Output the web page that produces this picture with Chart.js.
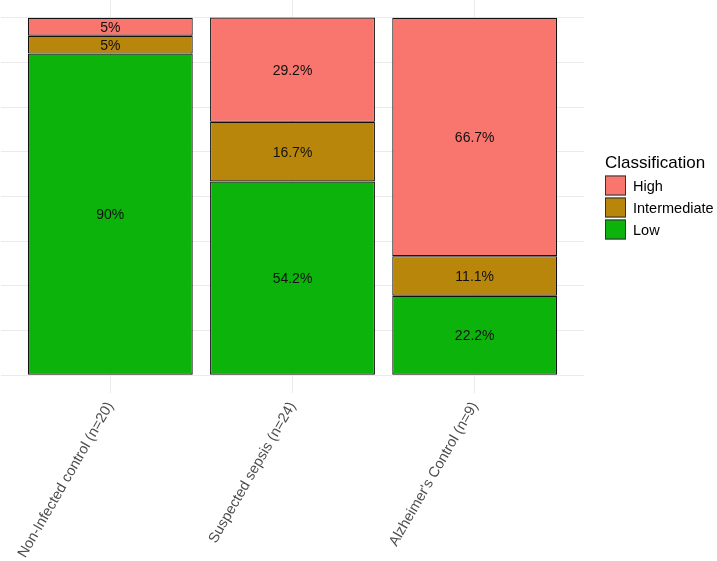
<!DOCTYPE html>
<html>
<head>
<meta charset="utf-8">
<script src="https://cdn.jsdelivr.net/npm/chart.js@4/dist/chart.umd.min.js"></script>
<style>
  html, body { margin: 0; padding: 0; background: #ffffff; }
  #wrap { width: 717px; height: 561px; position: relative; }
</style>
</head>
<body>
<div id="wrap"><canvas id="c" width="717" height="561"></canvas></div>
<script>
// ---- data ----
const categories = ["Non-Infected control (n=20)", "Suspected sepsis (n=24)", "Alzheimer's Control (n=9)"];
const classNames = ["High", "Intermediate", "Low"];
const highValues = [5, 29.2, 66.7];
const intermediateValues = [5, 16.7, 11.1];
const lowValues = [90, 54.2, 22.2];
const yGridTicks = [0, 12.5, 25, 37.5, 50, 62.5, 75, 87.5, 100];
const legendTitle = "Classification";

// ---- styles ----
const FONT = "'Liberation Sans', Arial, Helvetica, sans-serif";
const colors = { High: "#F8766D", Intermediate: "#B8860B", Low: "#0BB30B" };

function mkData(vals) { return vals.map((v, i) => ({ x: i, y: v })); }

const datasets = [
  { label: "Low", data: mkData(lowValues), backgroundColor: colors.Low },
  { label: "Intermediate", data: mkData(intermediateValues), backgroundColor: colors.Intermediate },
  { label: "High", data: mkData(highValues), backgroundColor: colors.High }
].map(d => Object.assign(d, {
  borderColor: "#111111", borderWidth: 1.2, borderSkipped: false,
  categoryPercentage: 1.0, barPercentage: 0.905
}));

const barLabels = {
  id: "barLabels",
  afterDatasetsDraw(chart) {
    const ctx = chart.ctx;
    ctx.save();
    ctx.font = "14px " + FONT;
    ctx.fillStyle = "#111111";
    ctx.textAlign = "center";
    ctx.textBaseline = "middle";
    chart.data.datasets.forEach((ds, di) => {
      const meta = chart.getDatasetMeta(di);
      meta.data.forEach((el, i) => {
        const p = el.getCenterPoint();
        ctx.fillText(ds.data[i].y + "%", p.x, p.y + 1);
      });
    });
    ctx.restore();
  }
};

const customLegend = {
  id: "customLegend",
  afterDraw(chart) {
    const ctx = chart.ctx;
    const ca = chart.chartArea;
    const x0 = ca.right + 21;
    const keySize = 20, keyGap = 22;
    const blockTop = (ca.top + ca.bottom) / 2 - 43;
    ctx.save();
    ctx.fillStyle = "#000000";
    ctx.font = "17px " + FONT;
    ctx.textAlign = "left";
    ctx.textBaseline = "alphabetic";
    ctx.fillText(legendTitle, x0, blockTop + 14);
    ctx.font = "14.5px " + FONT;
    ctx.textBaseline = "middle";
    classNames.forEach((name, i) => {
      const y = blockTop + 22 + i * keyGap;
      ctx.fillStyle = colors[name];
      ctx.fillRect(x0, y, keySize + 1, keySize);
      ctx.strokeStyle = "#333333";
      ctx.lineWidth = 1;
      ctx.strokeRect(x0 + 0.5, y + 0.5, keySize, keySize - 1);
      ctx.fillStyle = "#000000";
      ctx.fillText(name, x0 + 28, y + keySize / 2 + 1);
    });
    ctx.restore();
  }
};

new Chart(document.getElementById("c"), {
  type: "bar",
  data: { datasets },
  options: {
    responsive: false,
    animation: false,
    layout: { padding: { left: 1, right: 133, top: 0, bottom: 0 } },
    plugins: { legend: { display: false }, tooltip: { enabled: false } },
    scales: {
      x: {
        type: "linear",
        stacked: true,
        offset: false,
        min: -0.6, max: 2.6,
        afterBuildTicks: (s) => { s.ticks = categories.map((c, i) => ({ value: i })); },
        afterFit: (s) => { s.height = 168; },
        grid: { color: "#EBEBEB", lineWidth: 1, drawTicks: false, offset: false },
        border: { display: false },
        ticks: {
          autoSkip: false, minRotation: 60, maxRotation: 60, padding: 6,
          color: "#4D4D4D", font: { family: FONT, size: 14.5 },
          callback: (v) => categories[v]
        }
      },
      y: {
        stacked: true,
        min: -5, max: 105,
        afterBuildTicks: (s) => { s.ticks = yGridTicks.map(v => ({ value: v })); },
        afterFit: (s) => { s.width = 0; },
        grid: { color: "#EBEBEB", lineWidth: 1, drawTicks: false },
        border: { display: false },
        ticks: { display: false }
      }
    }
  },
  plugins: [barLabels, customLegend]
});
</script>
</body>
</html>
